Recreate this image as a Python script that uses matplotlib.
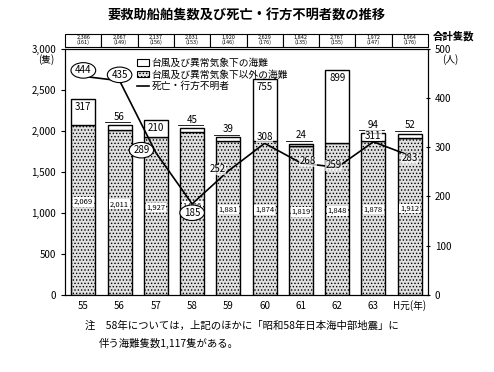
import numpy as np
import matplotlib
matplotlib.use("Agg")
import matplotlib.pyplot as plt
from matplotlib.patches import Rectangle
from matplotlib.lines import Line2D

plt.rcParams['font.family'] = ['Noto Sans CJK JP', 'DejaVu Sans']
plt.rcParams['hatch.color'] = '#b0b0b0'
plt.rcParams['hatch.linewidth'] = 0.6

years = ['55', '56', '57', '58', '59', '60', '61', '62', '63', 'H元(年)']
other = [2069, 2011, 1927, 1986, 1881, 1874, 1819, 1848, 1878, 1912]
typhoon = [317, 56, 210, 45, 39, 755, 24, 899, 94, 52]
deaths = [444, 435, 289, 185, 252, 308, 268, 259, 311, 283]
totals = ['2,386', '2,067', '2,137', '2,031', '1,920', '2,629', '1,842', '2,767', '1,972', '1,964']
ships = ['(161)', '(149)', '(156)', '(153)', '(146)', '(176)', '(135)', '(155)', '(147)', '(176)']
circled = [True, True, True, True, False, False, False, False, False, False]

fig = plt.figure(figsize=(4.94, 3.72), dpi=100)
ax = fig.add_axes([0.132, 0.207, 0.734, 0.662])
x = np.arange(len(years))
w = 0.66

ax.bar(x, other, w, color='#e0e0e0', hatch='.....', edgecolor='black', linewidth=1.0)
ax.bar(x, typhoon, w, bottom=other, color='white', edgecolor='black', linewidth=1.0)

for i in range(len(x)):
    ax.text(x[i], other[i] / 2 + 100, f'{other[i]:,}', ha='center', va='center', fontsize=5.5,
            bbox=dict(boxstyle='square,pad=0.1', fc='white', ec='none'))
    top = other[i] + typhoon[i]
    if typhoon[i] > 150:
        ax.text(x[i], top - 40, str(typhoon[i]), ha='center', va='top', fontsize=7)
    else:
        ax.text(x[i], top + 40, str(typhoon[i]), ha='center', va='bottom', fontsize=7)
        ax.plot([x[i] - 0.4, x[i] + 0.3], [top + 35, top + 35], color='black', lw=0.6)

ax.set_xlim(-0.5, 9.5)
ax.set_ylim(0, 3000)
ax.set_yticks(np.arange(0, 3001, 500))
ax.set_yticklabels([f'{v:,}' for v in range(0, 3001, 500)], fontsize=7)
ax.set_xticks(x)
ax.set_xticklabels(years, fontsize=7)
ax.tick_params(axis='x', length=0, pad=4)
ax.tick_params(axis='y', length=3, direction='out')
ax.text(-0.03, 0.955, '(隻)', transform=ax.transAxes, ha='right', va='center', fontsize=7)

ax2 = ax.twinx()
ax2.set_ylim(0, 500)
ax2.plot(x, deaths, color='black', lw=1.2)
ax2.set_yticks(np.arange(0, 501, 100))
ax2.tick_params(axis='y', labelsize=7, length=3, direction='inout')
ax2.text(1.04, 0.955, '(人)', transform=ax2.transAxes, ha='left', va='center', fontsize=7)
ax2.text(1.015, 1.05, '合計隻数', transform=ax2.transAxes, ha='left', va='center', fontsize=7.5,
         fontweight='bold')

offs = [(0, 12), (0, 12), (-0.4, 5), (0, -18), (-0.3, 3), (0, 12), (0.2, 4), (-0.1, 4), (0, 12), (0, -5)]
for i in range(len(x)):
    dx, dy = offs[i]
    if circled[i]:
        ax2.text(x[i] + dx, deaths[i] + dy, str(deaths[i]), ha='center', va='center', fontsize=7,
                 bbox=dict(boxstyle='ellipse,pad=0.05', fc='white', ec='black', lw=0.8))
    else:
        ax2.text(x[i] + dx, deaths[i] + dy, str(deaths[i]), ha='center', va='center', fontsize=7,
                 bbox=dict(boxstyle='square,pad=0.05', fc='white', ec='none', alpha=0.7))

# summary row above the plot
tr = ax.get_xaxis_transform()
for i in range(len(x)):
    ax.add_patch(Rectangle((x[i] - 0.5, 1.008), 1.0, 0.053, transform=tr, fc='white',
                           ec='black', lw=0.8, clip_on=False))
    ax.text(x[i], 1.035, totals[i] + '\n' + ships[i], transform=tr, ha='center', va='center',
            fontsize=4, linespacing=1.0)

handles = [Rectangle((0, 0), 1, 1, fc='white', ec='black', lw=0.8),
           Rectangle((0, 0), 1, 1, fc='#e0e0e0', hatch='.....', ec='black', lw=0.8),
           Line2D([0], [0], color='black', lw=1.2)]
labels = ['台風及び異常気象下の海難', '台風及び異常気象下以外の海難', '死亡・行方不明者']
ax.legend(handles, labels, loc='upper left', bbox_to_anchor=(0.18, 0.99), frameon=False,
          fontsize=7, handlelength=1.2, handletextpad=0.3, labelspacing=0.15, borderpad=0.2)

fig.text(0.5, 0.957, '要救助船舶隻数及び死亡・行方不明者数の推移', ha='center', va='center',
         fontsize=9.5, fontweight='bold')
fig.text(0.172, 0.125, '注　58年については，上記のほかに「昭和58年日本海中部地震」に',
         ha='left', va='center', fontsize=7.5)
fig.text(0.2, 0.077, '伴う海難隻数1,117隻がある。', ha='left', va='center', fontsize=7.5)

fig.savefig('out.png', dpi=100)
